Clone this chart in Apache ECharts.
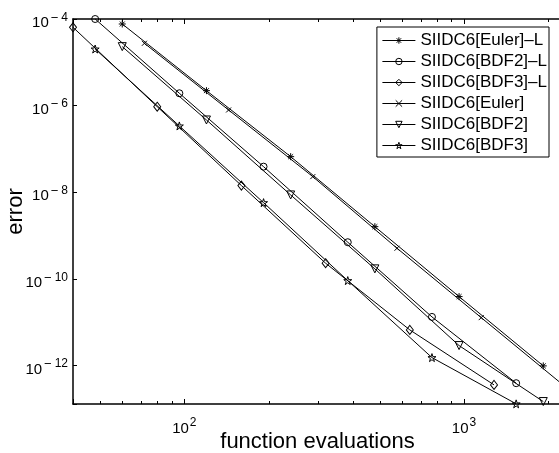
<!DOCTYPE html>
<html>
<head>
<meta charset="utf-8">
<script src="https://cdn.jsdelivr.net/npm/echarts@6/dist/echarts.min.js"></script>
<style>
html, body { margin: 0; padding: 0; background: #fff; }
#chart { width: 559px; height: 453px; }
</style>
</head>
<body>
<div id="chart"></div>
<script>
var seriesNames = ['SIIDC6[Euler]–L', 'SIIDC6[BDF2]–L', 'SIIDC6[BDF3]–L', 'SIIDC6[Euler]', 'SIIDC6[BDF2]', 'SIIDC6[BDF3]'];

var evalsEulerL = [60, 120, 240, 480, 960, 1920];
var errEulerL = [7.67e-5, 2.22e-6, 6.65e-8, 1.61e-9, 3.92e-11, 9.86e-13];

var evalsBDF2L = [48, 96, 192, 384, 768, 1536];
var errBDF2L = [1.0e-4, 1.93e-6, 3.91e-8, 7.05e-10, 1.33e-11, 3.93e-13];

var evalsBDF3L = [40, 80, 160, 320, 640, 1280];
var errBDF3L = [6.43e-5, 9.47e-7, 1.43e-8, 2.31e-10, 6.67e-12, 3.59e-13];

var evalsEuler = [72, 144, 288, 576, 1152, 2304];
var errEuler = [2.75e-5, 7.95e-7, 2.30e-8, 5.12e-10, 1.28e-11, 3.23e-13];

var evalsBDF2 = [60, 120, 240, 480, 960, 1920];
var errBDF2 = [2.30e-5, 4.67e-7, 8.69e-9, 1.71e-10, 2.90e-12, 1.48e-13];

var evalsBDF3 = [48, 96, 192, 384, 768, 1536];
var errBDF3 = [2.03e-5, 3.40e-7, 5.77e-9, 9.16e-11, 1.53e-12, 1.31e-13];

var minorTicksX = [50, 60, 70, 80, 90, 200, 300, 400, 500, 600, 700, 800, 900, 2000];

// axes are drawn in log10 space
var xMin = Math.log10(40), xMax = Math.log10(2240);
var yMin = Math.log10(1.3e-13), yMax = -4;
var FONT = 'Liberation Sans, Arial, Helvetica, sans-serif';

function zip(xs, ys) {
  var out = [];
  for (var i = 0; i < xs.length; i++) out.push([Math.log10(xs[i]), Math.log10(ys[i])]);
  return out;
}

function powLabel(v) {
  var r = Math.round(v);
  if (Math.abs(v - r) > 1e-6) return '';
  return '{b|10}' + (r < 0 ? '{m|\u2212}' : '') + '{s|' + Math.abs(r) + '}';
}

var labelRich = {
  b: { fontFamily: FONT, fontSize: 15, color: '#000', lineHeight: 19, verticalAlign: 'bottom' },
  m: { fontFamily: FONT, fontSize: 13, color: '#000', lineHeight: 11, verticalAlign: 'top', padding: [0, 2, 0, 2] },
  s: { fontFamily: FONT, fontSize: 12, color: '#000', lineHeight: 11, verticalAlign: 'top', padding: [0, 0, 0, 1] }
};

// matlab style marker shapes
var starPath = 'path://M0,-1L0.2245,-0.309L0.951,-0.309L0.363,0.118L0.588,0.809L0,0.382L-0.588,0.809L-0.363,0.118L-0.951,-0.309L-0.2245,-0.309Z';
var asteriskPath = 'path://M0,-1L0,1M-1,0L1,0M-0.7,-0.7L0.7,0.7M-0.7,0.7L0.7,-0.7';
var crossPath = 'path://M-1,-1L1,1M-1,1L1,-1';

function lineSeries(name, data, symbol, size, extra) {
  var s = {
    name: name,
    type: 'line',
    data: data,
    symbol: symbol,
    symbolSize: size,
    clip: false,
    lineStyle: { color: '#000', width: 1 },
    itemStyle: { color: 'rgba(0,0,0,0)', borderColor: '#000', borderWidth: 1 },
    emphasis: { disabled: true },
    z: 3
  };
  for (var k in extra) s[k] = extra[k];
  return s;
}

var axisLine = { lineStyle: { color: '#000', width: 1.5 } };

var chart = echarts.init(document.getElementById('chart'));

chart.setOption({
  animation: false,
  backgroundColor: '#fff',
  grid: { left: 73, top: 19, right: -3, bottom: 49, outerBoundsMode: 'none', containLabel: false },
  legend: {
    orient: 'vertical',
    right: 10,
    top: 27,
    data: seriesNames,
    backgroundColor: '#fff',
    borderColor: '#000',
    borderWidth: 1,
    borderRadius: 0,
    padding: [5, 2, 3, 5],
    itemGap: 4,
    itemWidth: 33,
    itemHeight: 8,
    itemStyle: { color: 'rgba(0,0,0,0)', borderColor: '#000', borderWidth: 1 },
    lineStyle: { color: '#000', width: 1 },
    textStyle: { fontFamily: FONT, fontSize: 17, color: '#000', lineHeight: 17 }
  },
  xAxis: [
    {
      type: 'value',
      min: xMin,
      max: xMax,
      splitNumber: 2,
      name: 'function evaluations',
      nameLocation: 'middle',
      nameGap: 27,
      nameMoveOverlap: false,
      nameTextStyle: { fontFamily: FONT, fontSize: 22, color: '#000' },
      axisLine: axisLine,
      axisTick: { inside: true, length: 5, lineStyle: { color: '#000' } },
      axisLabel: { interval: 0, formatter: powLabel, rich: labelRich, margin: 13, showMinLabel: true, showMaxLabel: true },
      splitLine: { show: false }
    },
    {
      type: 'value',
      min: xMin,
      max: xMax,
      splitNumber: 2,
      position: 'top',
      axisLine: axisLine,
      axisTick: { inside: true, length: 5, lineStyle: { color: '#000' } },
      axisLabel: { show: false },
      splitLine: { show: false }
    }
  ],
  yAxis: {
    type: 'value',
    min: yMin,
    max: yMax,
    splitNumber: 5,
    name: 'error',
    nameLocation: 'middle',
    nameGap: 46,
    nameMoveOverlap: false,
    nameTextStyle: { fontFamily: FONT, fontSize: 22, color: '#000' },
    axisLine: axisLine,
    axisTick: { inside: true, length: 4, lineStyle: { color: '#000' } },
    axisLabel: { interval: 0, formatter: powLabel, rich: labelRich, margin: 5, padding: [4, 0, 0, 0], showMinLabel: true, showMaxLabel: true },
    splitLine: { show: false }
  },
  series: [
    lineSeries(seriesNames[0], zip(evalsEulerL, errEulerL), asteriskPath, 7),
    lineSeries(seriesNames[1], zip(evalsBDF2L, errBDF2L), 'circle', 7),
    lineSeries(seriesNames[2], zip(evalsBDF3L, errBDF3L), 'diamond', [7, 9]),
    lineSeries(seriesNames[3], zip(evalsEuler, errEuler), crossPath, 5, { clip: true }),
    lineSeries(seriesNames[4], zip(evalsBDF2, errBDF2), 'triangle', 8, { symbolRotate: 180 }),
    lineSeries(seriesNames[5], zip(evalsBDF3, errBDF3), starPath, 8),
    {
      // minor ticks on bottom and top x axes
      type: 'custom',
      silent: true,
      clip: false,
      z: 4,
      data: minorTicksX.map(function (v) { return [Math.log10(v), yMin]; }),
      renderItem: function (params, api) {
        var x = Math.round(api.coord([api.value(0), yMin])[0]) + 0.5;
        var cs = params.coordSys;
        var bottom = cs.y + cs.height;
        return {
          type: 'group',
          children: [
            { type: 'line', shape: { x1: x, y1: bottom, x2: x, y2: bottom - 3 }, style: { stroke: '#000', lineWidth: 1 } },
            { type: 'line', shape: { x1: x, y1: cs.y, x2: x, y2: cs.y + 3 }, style: { stroke: '#000', lineWidth: 1 } }
          ]
        };
      }
    }
  ]
});
</script>
</body>
</html>
